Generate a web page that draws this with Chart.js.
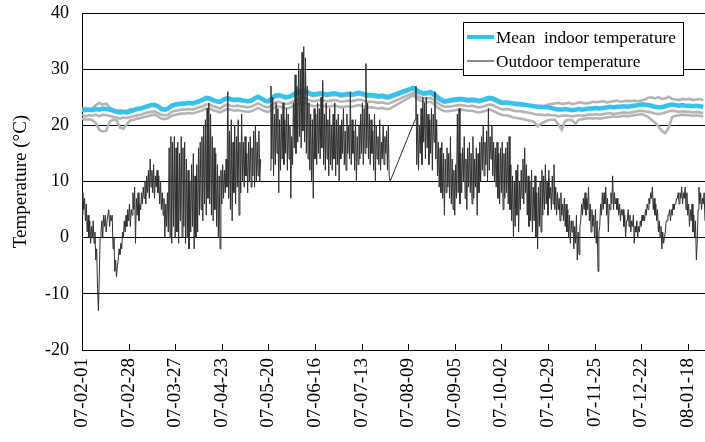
<!DOCTYPE html>
<html>
<head>
<meta charset="utf-8">
<script src="https://cdn.jsdelivr.net/npm/chart.js@4/dist/chart.umd.min.js"></script>
<style>
html,body{margin:0;padding:0;background:#fff;}
canvas{display:block;}
</style>
</head>
<body>
<canvas id="c" width="705" height="442"></canvas>
<script>
// ---- tick labels (x axis: day offsets from 07-02-01) ----
const tickDays   = [0,27,54,81,108,135,162,189,216,243,270,297,324,351];
const tickLabels = ['07-02-01','07-02-28','07-03-27','07-04-23','07-05-20','07-06-16','07-07-13','07-08-09','07-09-05','07-10-02','07-10-29','07-11-25','07-12-22','08-01-18'];

// ---- outdoor temperature, half-day samples ----
// segment 1: from day 0
const outdoorSeg1Start = 0;
const outdoorSeg1 = [
 4,8, 5,7, 3,6, 1,4, 0,3, -1,2, 0,3, -1,1, -4,-2, -9,-13,
 -7,0, 1,3, 0,4, 2,4, 1,3, 3,5, 2,4, 3,4, -2,0, -6,-4,
 -7,-5, -4,-2, -3,-1, -2,1, 0,3, 1,4, 2,5, 3,6, 2,5, 4,8,
 5,9, -1,7, 4,8, 3,6, 5,8, 6,9, 7,10, 6,11, 8,12, 7,14,
 9,12, 8,13, 7,11, 9,12, 8,11, 6,10, 5,8, 4,7, 0,6, 2,8,
 1,16, 0,18, -1,17, 2,18, 0,16, 1,17, -1,15, 3,18, 0,16, 2,17,
 -1,14, 0,12, -2,10, 1,13, 2,15, -2,11, 0,13, 1,16, 4,17, 5,18,
 3,20, 6,21, 4,23, 7,24, 6,22, 4,18, 3,16, 5,15, 2,13, 0,11,
 -2,12, 6,13, 7,12, 8,14, 9,26, 7,19, 5,21, 3,17, 8,20, 6,18,
 9,21, 4,17, 8,22, 10,17, 9,18, 11,15, 8,17, 10,18, 9,16, 11,19,
 9,20, 10,17, 11,19, 10,14
];
// segment 2: from day 109 (short gap before)
const outdoorSeg2Start = 109;
const outdoorSeg2 = [
 12,27, 14,25, 11,22, 13,24, 15,23, 8,21, 12,22, 14,24, 13,21, 15,23,
 12,22, 14,20, 7,18, 13,24, 16,29, 15,27, 17,31, 18,30, 16,33, 19,34,
 17,32, 15,27, 14,24, 12,22, 10,21, 7,23, 14,22, 13,24, 15,23, 14,25,
 16,28, 13,22, 12,24, 14,21, 11,23, 13,20, 12,22, 14,24, 11,21, 13,22,
 10,20, 14,21, 15,23, 13,19, 12,22, 15,20, 14,26, 13,21, 15,19, 12,21,
 10,18, 13,20, 14,22, 15,24, 13,23, 15,31, 16,24, 14,22, 13,21, 15,19,
 12,22, 10,20, 14,18, 13,21, 12,17, 14,20, 13,18, 15,19, 12,20, 11,10
];
// segment 3: from day 193 (joined to segment 2 by a straight line)
const outdoorSeg3Start = 193;
const outdoorSeg3 = [
 21,27, 13,22, 12,20, 15,23, 13,25, 17,24, 14,25, 16,22, 13,21, 15,23,
 12,22, 17,26, 14,21, 11,17, 9,16, 8,17, 7,15, 4,14, 8,16, 9,15,
 7,18, 6,14, 5,12, 4,13, 7,22, 8,23, 6,15, 8,16, 10,18, 7,14,
 5,16, 9,17, 8,15, 6,18, 7,14, 9,16, 4,15, 8,17, 10,18, 12,20,
 11,17, 13,19, 10,23, 12,18, 14,20, 11,17, 10,16, 9,17, 7,15, 6,16,
 8,17, 5,15, 7,16, 8,17, 6,18, 5,13, 3,11, 0,10, 2,12, 4,13,
 1,10, 5,12, 7,14, 6,16, 8,13, 4,11, 2,10, 3,12, 1,9, 3,11,
 0,8, -2,9, 2,10, 1,12, 4,11, 5,13, 6,10, 4,12, 7,9, 5,11,
 6,13, 5,9, 4,8, 5,7, 3,8, 4,6, 3,7, 2,6, 1,5, 0,4,
 -1,3, 1,3, -2,2, -1,4, -4,1, -3,2, 3,6, 4,7, 5,8, 4,7,
 5,9, 3,6, 1,5, 2,4, 0,5, -1,3, -6,1, 2,6, 4,8, 5,8,
 6,9, 4,7, 1,6, 5,8, 6,11, 5,8, 6,7, 5,7, 4,6, 3,5,
 4,5, 2,4, 0,3, 3,5, 2,4, 1,3, 2,4, -1,2, 1,3, 0,2,
 1,3, 2,4, 3,4, 3,5, 4,6, 5,7, 6,8, 7,9, 5,7, 4,6,
 3,5, 1,3, 0,2, -2,1, -1,0, 1,3, 3,4, 4,5, 3,5, 4,6,
 5,6, 6,7, 7,8, 6,8, 7,9, 6,8, 7,9, 5,8, 4,6, 2,5,
 3,6, 1,4, 0,3, -4,-1, 5,9, 6,8, 5,7, 6,8, 3,-2
];

// ---- indoor temperatures, 2-day samples ----
const indoorSeg1Start = 0;
const indoorSeg2Start = 192;
const meanSeg1 = [
 22.8,22.7,22.8,22.7,22.9,22.8,23.0,22.9,22.8,22.6,
 22.4,22.3,22.4,22.3,22.5,22.7,22.9,23.0,23.2,23.4,
 23.6,23.6,23.4,22.9,22.8,23.0,23.5,23.7,23.8,23.9,
 23.9,24.0,23.9,24.1,24.3,24.6,24.9,24.8,24.5,24.3,
 24.2,24.6,24.8,24.7,24.5,24.6,24.5,24.4,24.3,24.4,
 24.8,25.1,24.8,24.4,24.3,24.8,25.3,25.4,25.2,25.0,
 25.1,25.4,25.8,26.0,26.2,26.0,25.7,25.5,25.6,25.7,
 25.6,25.5,25.6,25.7,25.6,25.4,25.5,25.6,25.5,25.6,
 25.8,25.7,25.5,25.4,25.4,25.3,25.2,25.3,25.1,25.1
];
const meanSeg2 = [
 26.7,26.2,25.9,25.7,25.8,25.9,25.5,25.0,24.6,24.3,
 24.4,24.5,24.6,24.7,24.7,24.6,24.5,24.6,24.5,24.4,
 24.5,24.7,24.9,24.8,24.5,24.2,24.0,24.1,24.0,23.9,
 23.8,23.8,23.7,23.6,23.5,23.4,23.3,23.3,23.2,23.2,
 23.1,22.9,22.8,22.8,22.9,22.8,22.7,22.8,22.9,22.8,
 22.9,23.0,23.0,23.1,23.0,23.1,23.2,23.3,23.2,23.3,
 23.3,23.4,23.3,23.4,23.5,23.6,23.7,23.7,23.6,23.5,
 23.3,23.2,23.2,23.4,23.6,23.7,23.6,23.5,23.6,23.5,
 23.5,23.4,23.5,23.4,23.3
];
const roomUpperSeg1 = [
 22.9,23.1,22.8,23.0,23.6,24.0,23.7,23.9,23.2,22.9,
 22.6,22.7,22.5,22.6,22.9,22.8,23.1,23.0,23.3,23.5,
 23.6,23.8,23.5,23.1,22.9,23.1,23.4,23.6,23.7,23.8,
 23.8,23.9,23.8,24.0,24.1,24.4,24.6,24.6,24.3,24.1,
 24.0,24.4,24.6,24.5,24.3,24.4,24.3,24.2,24.1,24.2,
 24.6,24.8,24.6,24.2,24.1,24.6,25.0,25.1,25.0,24.8,
 24.9,25.1,25.5,25.6,25.8,25.7,25.4,25.2,25.3,25.4,
 25.3,25.2,25.3,25.4,25.3,25.1,25.2,25.3,25.2,25.3,
 25.5,25.4,25.2,25.1,25.1,25.0,24.9,25.0,24.8,24.8
];
const roomUpperSeg2 = [
 26.4,25.9,25.6,25.4,25.5,25.6,25.2,24.7,24.3,24.0,
 24.1,24.2,24.3,24.4,24.5,24.3,24.2,24.3,24.2,24.1,
 24.3,24.4,24.6,24.5,24.2,23.9,23.8,23.9,23.8,23.7,
 23.6,23.6,23.5,23.5,23.4,23.3,23.3,23.4,23.5,23.7,
 23.8,23.9,24.0,23.8,23.9,24.0,23.8,23.9,24.1,24.0,
 23.9,24.0,24.2,24.1,24.2,24.3,24.1,24.2,24.3,24.4,
 24.2,24.3,24.4,24.3,24.4,24.3,24.4,24.6,24.9,25.0,
 24.8,25.0,24.7,24.8,25.1,24.7,24.6,24.5,24.7,24.6,
 24.7,24.5,24.6,24.7,24.4
];
const roomMidSeg1 = [
 21.9,21.6,21.8,21.7,21.9,21.6,21.9,21.8,21.7,21.5,
 21.4,21.2,21.4,21.3,21.5,21.6,21.8,21.9,22.1,22.3,
 22.4,22.5,22.2,21.9,21.8,21.9,22.4,22.6,22.7,22.8,
 22.8,22.9,22.8,23.0,23.2,23.4,23.7,23.7,23.4,23.2,
 23.0,23.4,23.7,23.5,23.4,23.5,23.4,23.3,23.2,23.3,
 23.6,23.9,23.6,23.3,23.2,23.6,24.1,24.2,24.0,23.8,
 23.9,24.2,24.5,24.7,24.9,24.7,24.4,24.3,24.4,24.5,
 24.4,24.3,24.4,24.5,24.4,24.2,24.3,24.4,24.3,24.4,
 24.6,24.5,24.3,24.2,24.2,24.1,24.0,24.1,23.9,23.9
];
const roomMidSeg2 = [
 25.8,25.3,25.0,24.8,24.8,24.9,24.5,24.0,23.6,23.3,
 23.3,23.4,23.5,23.6,23.6,23.5,23.4,23.5,23.3,23.2,
 23.3,23.5,23.7,23.6,23.3,23.0,22.8,22.9,22.8,22.6,
 22.5,22.5,22.4,22.3,22.2,22.0,21.9,21.9,21.8,21.9,
 21.8,21.8,21.6,21.7,21.8,21.7,21.6,21.7,21.8,21.7,
 21.8,21.9,21.9,22.0,21.9,22.0,22.1,22.2,22.0,22.1,
 22.2,22.3,22.2,22.3,22.4,22.5,22.6,22.5,22.4,22.3,
 22.1,22.0,22.1,22.3,22.5,22.6,22.5,22.4,22.5,22.4,
 22.4,22.3,22.4,22.3,22.2
];
const roomLowSeg1 = [
 21.2,21.0,21.1,20.9,20.4,19.2,18.9,19.0,20.6,21.0,
 20.9,19.6,19.4,20.2,20.9,21.0,21.2,21.3,21.5,21.6,
 21.8,21.9,21.6,21.2,21.1,21.3,21.7,21.9,22.0,22.1,
 22.1,22.2,22.1,22.3,22.5,22.7,23.0,23.0,22.7,22.5,
 22.3,22.6,22.9,22.8,22.6,22.7,22.6,22.5,22.4,22.5,
 22.8,23.1,22.8,22.5,22.4,22.8,23.3,23.4,23.2,23.0,
 23.1,23.4,23.7,23.9,24.1,23.9,23.6,23.4,23.5,23.6,
 23.5,23.3,23.4,23.5,23.4,23.2,23.3,23.4,23.3,23.4,
 23.6,23.5,23.3,23.2,23.2,23.1,23.0,23.1,22.9,22.9
];
const roomLowSeg2 = [
 25.4,24.8,24.4,24.2,24.1,24.2,23.8,23.2,22.8,22.5,
 22.5,22.6,22.7,22.8,22.8,22.7,22.6,22.6,22.4,22.3,
 22.4,22.6,22.8,22.6,22.3,22.0,21.8,21.8,21.6,21.4,
 21.3,21.2,21.1,20.9,20.8,20.6,19.8,20.3,20.6,20.9,
 21.0,21.0,20.2,19.2,20.8,21.0,20.9,20.3,21.0,21.1,
 21.2,21.3,21.2,21.3,21.2,21.3,21.4,21.5,21.6,21.5,
 21.6,21.7,21.6,21.7,21.8,21.9,22.0,21.8,21.5,21.0,
 20.5,19.8,19.0,18.6,19.6,21.5,21.7,21.8,21.9,21.8,
 21.8,21.7,21.8,21.7,21.6
];

// ---- build point lists ----
function pts(values, start, step) {
  return values.map((v, i) => ({ x: start + i * step, y: v }));
}
const outdoorData = [
  ...pts(outdoorSeg1, outdoorSeg1Start, 0.5),
  { x: (outdoorSeg1Start + outdoorSeg1.length * 0.5 + outdoorSeg2Start) / 2, y: null },
  ...pts(outdoorSeg2, outdoorSeg2Start, 0.5),
  ...pts(outdoorSeg3, outdoorSeg3Start, 0.5)
];
function indoor(a, b) { return [...pts(a, indoorSeg1Start, 2), ...pts(b, indoorSeg2Start, 2)]; }

const SERIF = "'Liberation Serif', 'Times New Roman', serif";
const greyStyle = { borderColor: '#b4b4b4', borderWidth: 2.6, pointRadius: 0, tension: 0, order: 3 };

const innerTicks = {
  id: 'innerTicks',
  afterDatasetsDraw(chart) {
    const { ctx, chartArea } = chart; const x = chart.scales.x;
    ctx.save(); ctx.strokeStyle = '#000'; ctx.lineWidth = 1;
    x.ticks.forEach(t => {
      const px = Math.round(x.getPixelForValue(t.value)) + 0.5;
      ctx.beginPath(); ctx.moveTo(px, chartArea.bottom); ctx.lineTo(px, chartArea.bottom - 6); ctx.stroke();
    });
    ctx.restore();
  }
};
const boxLegend = {
  id: 'boxLegend',
  afterDatasetsDraw(chart) {
    const { ctx, chartArea } = chart;
    const items = chart.data.datasets.filter(d => d.label).sort((a, b) => a.legendOrder - b.legendOrder);
    const left = chartArea.right - 242, top = chartArea.top + 9, w = 220, h = 53;
    ctx.save();
    ctx.fillStyle = '#fff'; ctx.fillRect(left, top, w, h);
    ctx.strokeStyle = '#000'; ctx.lineWidth = 1;
    ctx.strokeRect(Math.round(left) + 0.5, Math.round(top) + 0.5, w, h);
    ctx.font = '17.3px ' + SERIF; ctx.fillStyle = '#000'; ctx.textBaseline = 'middle';
    items.forEach((d, i) => {
      const cy = top + 15 + i * 24;
      ctx.strokeStyle = d.legendColor || d.borderColor;
      ctx.lineWidth = d.legendWidth || d.borderWidth;
      ctx.beginPath(); ctx.moveTo(left + 4, cy); ctx.lineTo(left + 31, cy); ctx.stroke();
      ctx.fillText(d.label, left + 33, cy + 1);
    });
    ctx.restore();
  }
};

new Chart(document.getElementById('c'), {
  type: 'line',
  data: {
    datasets: [
      { label: 'Outdoor temperature', legendOrder: 2, data: outdoorData, borderColor: '#2e2e2e', legendColor: '#666', borderWidth: 1, legendWidth: 1.5, pointRadius: 0, tension: 0, order: 1 },
      { label: 'Mean  indoor temperature', legendOrder: 1, data: indoor(meanSeg1, meanSeg2), borderColor: '#33c3ee', borderWidth: 4.5, legendWidth: 4, pointRadius: 0, tension: 0, order: 2 },
      { data: indoor(roomUpperSeg1, roomUpperSeg2), ...greyStyle },
      { data: indoor(roomMidSeg1, roomMidSeg2), ...greyStyle },
      { data: indoor(roomLowSeg1, roomLowSeg2), ...greyStyle }
    ]
  },
  options: {
    responsive: false,
    animation: false,
    devicePixelRatio: 1,
    layout: { padding: { top: 13, right: 0, bottom: 0, left: 0 }, autoPadding: false },
    plugins: { legend: { display: false }, tooltip: { enabled: false } },
    scales: {
      x: {
        type: 'linear', min: 0, max: 361,
        afterBuildTicks: s => { s.ticks = tickDays.map(v => ({ value: v })); },
        afterFit: s => { s.height = 92; s.paddingLeft = 0; s.paddingRight = 0; },
        grid: { display: false, drawTicks: false },
        border: { display: true, color: '#000', width: 1 },
        ticks: {
          autoSkip: false, minRotation: 90, maxRotation: 90, padding: 8,
          color: '#000', font: { family: SERIF, size: 19 },
          callback: (v) => { const i = tickDays.indexOf(v); return i >= 0 ? tickLabels[i] : ''; }
        }
      },
      y: {
        min: -20, max: 40,
        afterFit: s => { s.width = 82; s.paddingTop = 0; s.paddingBottom = 0; },
        grid: { color: '#000', lineWidth: 1, drawTicks: false },
        border: { display: true, color: '#000', width: 1 },
        ticks: { stepSize: 10, padding: 13, color: '#000', font: { family: SERIF, size: 18 } },
        title: { display: true, text: 'Temperature (°C)', color: '#000', font: { family: SERIF, size: 19 }, padding: { top: 10, bottom: 0 } }
      }
    }
  },
  plugins: [innerTicks, boxLegend]
});
</script>
</body>
</html>
